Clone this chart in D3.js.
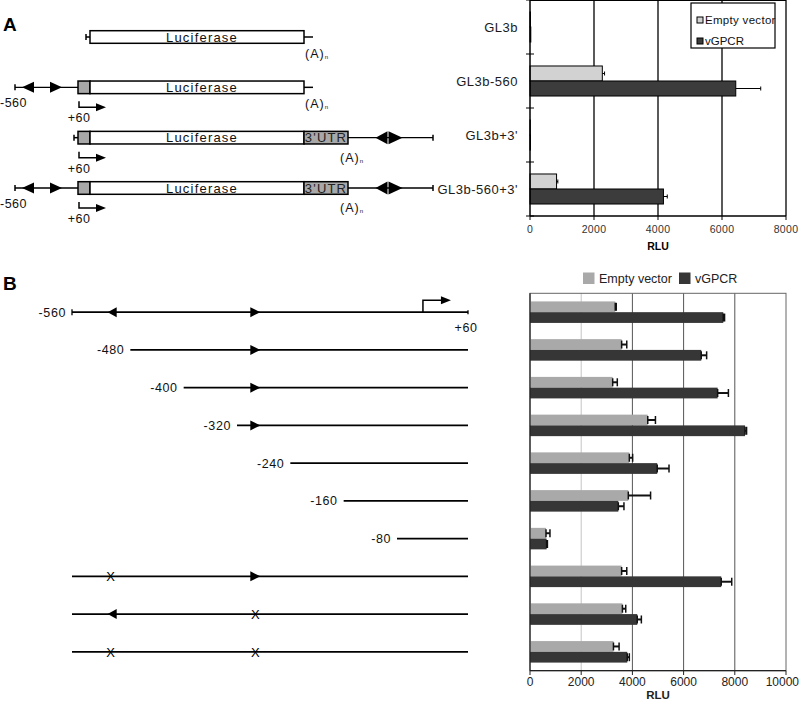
<!DOCTYPE html>
<html>
<head>
<meta charset="utf-8">
<script src="https://cdn.jsdelivr.net/npm/d3@7"></script>
<style>
  body { margin: 0; background: #fff; }
  svg { display: block; font-family: "Liberation Sans", Arial, sans-serif; }
</style>
</head>
<body>
<svg id="fig" width="800" height="702"></svg>
<script>
// ---- panel A data ----
var catsA = ["GL3b", "GL3b-560", "GL3b+3'", "GL3b-560+3'"];
var emptyA = [15, 2260, 10, 830];
var emptyAErr = [0, 70, 0, 40];
var gpcrA = [25, 6430, 15, 4170];
var gpcrAErr = [0, 780, 0, 120];
var ticksA = [0, 2000, 4000, 6000, 8000];
var hasPromoterA = [false, true, false, true];
var hasUtrA = [false, false, true, true];

// ---- panel B data ----
var catsB = ["-560", "-480", "-400", "-320", "-240", "-160", "-80", "mut1", "mut2", "mut12"];
var startB = [-560, -480, -400, -320, -240, -160, -80, -560, -560, -560];
var labelB = ["-560", "-480", "-400", "-320", "-240", "-160", "-80", "", "", ""];
var site1B = ["tri", "", "", "", "", "", "", "x", "tri", "x"];
var site2B = ["tri", "tri", "tri", "tri", "", "", "", "tri", "x", "x"];
var emptyB = [3330, 3580, 3230, 4600, 3880, 3840, 625, 3580, 3610, 3260];
var emptyBErr = [40, 200, 180, 300, 130, 870, 155, 200, 130, 220];
var gpcrB = [7550, 6690, 7330, 8400, 4970, 3450, 650, 7470, 4190, 3800];
var gpcrBErr = [50, 210, 420, 60, 460, 220, 30, 410, 160, 80];
var ticksB = [0, 2000, 4000, 6000, 8000, 10000];
var keys = ["Empty vector", "vGPCR"];

var svg = d3.select("#fig");

function tri(g, x, y, dir, w, h) {
    // dir 1 = pointing right, -1 = pointing left; x is the base
    g.append("path")
        .attr("d", "M" + x + "," + (y - h / 2) + "L" + (x + dir * w) + "," + y + "L" + x + "," + (y + h / 2) + "Z")
        .attr("fill", "#000");
}

// panel letters
svg.append("text").attr("x", 3).attr("y", 31).attr("font-size", 19).attr("font-weight", "bold").text("A");
svg.append("text").attr("x", 3).attr("y", 290).attr("font-size", 19).attr("font-weight", "bold").text("B");

// ================= Panel A schematic =================
var rowA = d3.scalePoint().domain(catsA).range([37, 188]);
var gA = svg.append("g").attr("stroke-width", 1.5);

catsA.forEach(function (c, i) {
    var y = rowA(c);
    var g = gA.append("g");
    if (hasPromoterA[i]) {
        g.append("line").attr("x1", 15).attr("x2", 78).attr("y1", y).attr("y2", y).attr("stroke", "#000").attr("stroke-width", 1.3);
        g.append("line").attr("x1", 15).attr("x2", 15).attr("y1", y - 3).attr("y2", y + 3).attr("stroke", "#000");
        tri(g, 34, y, -1, 12, 11);
        tri(g, 50, y, 1, 12, 11);
        g.append("text").attr("x", 0).attr("y", y + 20).attr("font-size", 12.5).attr("letter-spacing", 0.5).attr("fill", "#111").text("-560");
    }
    var left = (hasPromoterA[i] || hasUtrA[i]) ? 78 : 90;
    if (!hasPromoterA[i]) {
        g.append("line").attr("x1", left - 4).attr("x2", left).attr("y1", y).attr("y2", y).attr("stroke", "#000");
        g.append("line").attr("x1", left - 4).attr("x2", left - 4).attr("y1", y - 3).attr("y2", y + 3).attr("stroke", "#000");
    }
    if (left === 78) {
        g.append("rect").attr("x", 78).attr("y", y - 6.3).attr("width", 12).attr("height", 12.6)
            .attr("fill", "#a8a8a8").attr("stroke", "#000");
        // transcription start arrow
        g.append("path").attr("d", "M79," + (y + 14) + "V" + (y + 20) + "H97").attr("fill", "none").attr("stroke", "#000");
        tri(g, 96, y + 20, 1, 10, 8);
        g.append("text").attr("x", 79).attr("y", y + 35).attr("text-anchor", "middle").attr("font-size", 12.5).attr("letter-spacing", 0.5).attr("fill", "#111").text("+60");
    }
    g.append("rect").attr("x", 90).attr("y", y - 6.3).attr("width", 214).attr("height", 12.6)
        .attr("fill", "#fff").attr("stroke", "#000");
    g.append("text").attr("x", 202).attr("y", y + 4.5).attr("text-anchor", "middle")
        .attr("font-size", 13).attr("letter-spacing", 1.2).attr("fill", "#111").text("Luciferase");
    var polyX;
    if (hasUtrA[i]) {
        g.append("rect").attr("x", 304).attr("y", y - 6.3).attr("width", 44).attr("height", 12.6)
            .attr("fill", "#a8a8a8").attr("stroke", "#000");
        g.append("text").attr("x", 326).attr("y", y + 4.5).attr("text-anchor", "middle")
            .attr("font-size", 13).attr("letter-spacing", 1.2).attr("fill", "#222").text("3'UTR");
        g.append("line").attr("x1", 348).attr("x2", 433).attr("y1", y).attr("y2", y).attr("stroke", "#000").attr("stroke-width", 1.3);
        g.append("line").attr("x1", 433).attr("x2", 433).attr("y1", y - 3).attr("y2", y + 3).attr("stroke", "#000");
        tri(g, 387.5, y, -1, 12, 13);
        tri(g, 388.5, y, 1, 14, 13);
        polyX = 340;
    } else {
        g.append("line").attr("x1", 304).attr("x2", 313).attr("y1", y).attr("y2", y).attr("stroke", "#000");
        polyX = 305;
    }
    var t = g.append("text").attr("x", polyX).attr("y", y + (hasUtrA[i] ? 24 : 21))
        .attr("font-size", 12.5).attr("letter-spacing", 1).attr("fill", "#111").text("(A)");
    t.append("tspan").attr("font-size", 6).attr("dy", 1).text("n");
});

// ================= Panel A chart =================
var xA = d3.scaleLinear().domain([0, 8000]).range([530, 786]);
var yA = d3.scaleBand().domain(catsA).range([0, 216]).paddingInner(0.444).paddingOuter(0.222);
var subA = d3.scaleBand().domain(keys).range([0, yA.bandwidth()]);
var colorA = d3.scaleOrdinal().domain(keys).range(["#d2d2d2", "#3c3c3c"]);
var cA = svg.append("g");

cA.selectAll(".gridA").data(ticksA.slice(1)).enter().append("line")
    .attr("x1", function (d) { return xA(d); }).attr("x2", function (d) { return xA(d); })
    .attr("y1", 0).attr("y2", 216).attr("stroke", "#000").attr("stroke-width", 1.3);
cA.append("line").attr("x1", 530).attr("x2", 786).attr("y1", 0.5).attr("y2", 0.5).attr("stroke", "#000");

var seriesA = [
    { key: keys[0], vals: emptyA, errs: emptyAErr },
    { key: keys[1], vals: gpcrA, errs: gpcrAErr }
];
seriesA.forEach(function (s) {
    catsA.forEach(function (c, i) {
        var y0 = yA(c) + subA(s.key);
        cA.append("rect").attr("x", xA(0)).attr("y", y0)
            .attr("width", xA(s.vals[i]) - xA(0)).attr("height", subA.bandwidth())
            .attr("fill", colorA(s.key)).attr("stroke", "#000").attr("stroke-width", 1);
        if (s.errs[i] > 0) {
            var ym = y0 + subA.bandwidth() / 2;
            var xe = xA(s.vals[i] + s.errs[i]);
            cA.append("line").attr("x1", xA(s.vals[i])).attr("x2", xe).attr("y1", ym).attr("y2", ym).attr("stroke", "#000");
            cA.append("line").attr("x1", xe).attr("x2", xe).attr("y1", ym - 2).attr("y2", ym + 2).attr("stroke", "#000");
        }
    });
});

// axes A
cA.append("line").attr("x1", 530).attr("x2", 530).attr("y1", 0).attr("y2", 216).attr("stroke", "#000").attr("stroke-width", 1.5);
cA.append("line").attr("x1", 530).attr("x2", 786).attr("y1", 216).attr("y2", 216).attr("stroke", "#000").attr("stroke-width", 1.5);
d3.range(catsA.length + 1).forEach(function (k) {
    var y = k * yA.step();
    cA.append("line").attr("x1", 526).attr("x2", 534).attr("y1", y).attr("y2", y).attr("stroke", "#000");
});
cA.selectAll(".tkA").data(ticksA).enter().append("line")
    .attr("x1", function (d) { return xA(d); }).attr("x2", function (d) { return xA(d); })
    .attr("y1", 216).attr("y2", 220).attr("stroke", "#000");
cA.selectAll(".tlA").data(ticksA).enter().append("text")
    .attr("x", function (d) { return xA(d); }).attr("y", 233)
    .attr("text-anchor", "middle").attr("font-size", 10.5).attr("fill", "#333").attr("letter-spacing", 0.3)
    .text(function (d) { return d; });
cA.append("text").attr("x", 658).attr("y", 250).attr("text-anchor", "middle")
    .attr("font-size", 10.5).attr("font-weight", "bold").text("RLU");
cA.selectAll(".catA").data(catsA).enter().append("text")
    .attr("x", 518).attr("y", function (d) { return yA(d) + yA.bandwidth() / 2 + 5; })
    .attr("text-anchor", "end").attr("font-size", 13).attr("letter-spacing", 0.5).attr("fill", "#1a1a1a")
    .text(function (d) { return d; });

// legend A
var lgA = cA.append("g");
lgA.append("rect").attr("x", 691).attr("y", 3).attr("width", 84).attr("height", 45)
    .attr("fill", "#fff").attr("stroke", "#000").attr("stroke-width", 1.2);
keys.forEach(function (k, i) {
    var y = 20 + i * 21;
    lgA.append("rect").attr("x", 697).attr("y", y - 3).attr("width", 6).attr("height", 6)
        .attr("fill", colorA(k)).attr("stroke", "#000");
    lgA.append("text").attr("x", 705).attr("y", y + 4).attr("font-size", 11.5).attr("letter-spacing", i === 0 ? 0.3 : 0).attr("fill", "#111").text(k);
});

// ================= Panel B chart =================
var xB = d3.scaleLinear().domain([0, 10000]).range([530, 786]);
var yB = d3.scaleBand().domain(catsB).range([293.3, 670.7]).paddingInner(0.43).paddingOuter(0.215);
var subB = d3.scaleBand().domain(keys).range([0, yB.bandwidth()]);
var colorB = d3.scaleOrdinal().domain(keys).range(["#a9a9a9", "#363636"]);
var cB = svg.append("g");

cB.selectAll(".gridB").data(ticksB.slice(1, -1)).enter().append("line")
    .attr("x1", function (d) { return xB(d); }).attr("x2", function (d) { return xB(d); })
    .attr("y1", 293.3).attr("y2", 670.7)
    .attr("stroke", function (d) { return d === 2000 ? "#c4c4c4" : "#555"; }).attr("stroke-width", 1);
cB.append("rect").attr("x", 530).attr("y", 293.3).attr("width", 256).attr("height", 377.4)
    .attr("fill", "none").attr("stroke", "#666").attr("stroke-width", 1);

var seriesB = [
    { key: keys[0], vals: emptyB, errs: emptyBErr },
    { key: keys[1], vals: gpcrB, errs: gpcrBErr }
];
seriesB.forEach(function (s) {
    catsB.forEach(function (c, i) {
        var y0 = yB(c) + subB(s.key);
        cB.append("rect").attr("x", xB(0)).attr("y", y0)
            .attr("width", xB(s.vals[i]) - xB(0)).attr("height", subB.bandwidth())
            .attr("fill", colorB(s.key));
        var ym = y0 + subB.bandwidth() / 2;
        var x1 = xB(s.vals[i]), xe = xB(s.vals[i] + s.errs[i]);
        cB.append("line").attr("x1", x1).attr("x2", xe).attr("y1", ym).attr("y2", ym).attr("stroke", "#111").attr("stroke-width", 2);
        [x1, xe].forEach(function (xx) {
            cB.append("line").attr("x1", xx).attr("x2", xx).attr("y1", ym - 4).attr("y2", ym + 4).attr("stroke", "#111").attr("stroke-width", 1.5);
        });
    });
});

cB.append("line").attr("x1", 530).attr("x2", 786).attr("y1", 670.7).attr("y2", 670.7).attr("stroke", "#222").attr("stroke-width", 1.2);
cB.append("line").attr("x1", 530).attr("x2", 530).attr("y1", 293.3).attr("y2", 670.7).attr("stroke", "#222").attr("stroke-width", 1.2);
cB.selectAll(".tkB").data(ticksB).enter().append("line")
    .attr("x1", function (d) { return xB(d); }).attr("x2", function (d) { return xB(d); })
    .attr("y1", 670.7).attr("y2", 675).attr("stroke", "#222");
cB.selectAll(".tlB").data(ticksB).enter().append("text")
    .attr("x", function (d) { return d === 10000 ? 799 : xB(d); }).attr("y", 686)
    .attr("text-anchor", function (d) { return d === 10000 ? "end" : "middle"; })
    .attr("font-size", 12).attr("fill", "#222")
    .text(function (d) { return d; });
cB.append("text").attr("x", 658).attr("y", 699).attr("text-anchor", "middle")
    .attr("font-size", 11.5).attr("font-weight", "bold").attr("fill", "#222").text("RLU");

// legend B
var lgB = cB.append("g");
var legXB = [583, 679];
keys.forEach(function (k, i) {
    lgB.append("rect").attr("x", legXB[i]).attr("y", 272.5).attr("width", 11.5).attr("height", 11.5).attr("fill", colorB(k));
    lgB.append("text").attr("x", legXB[i] + 16).attr("y", 283).attr("font-size", 12.5).attr("fill", "#222").text(k);
});

// ================= Panel B schematic =================
var pos = d3.scaleLinear().domain([-560, -80, 60]).range([72, 392, 468]);
var gB = svg.append("g");
var site1 = -502, site2 = -285, tss = -23;

catsB.forEach(function (c, i) {
    var y = yB(c) + yB.bandwidth() / 2;
    var g = gB.append("g");
    var x0 = pos(startB[i]) + (i > 0 && i < 7 ? 5 : 0);
    g.append("line").attr("x1", x0).attr("x2", pos(60)).attr("y1", y).attr("y2", y)
        .attr("stroke", "#000").attr("stroke-width", 1.6);
    if (labelB[i]) {
        g.append("text").attr("x", x0 - 6).attr("y", y + 4.5).attr("text-anchor", "end")
            .attr("font-size", 12.5).attr("letter-spacing", 0.6).attr("fill", "#111").text(labelB[i]);
    }
    if (i === 0) {
        g.append("line").attr("x1", x0).attr("x2", x0).attr("y1", y - 3).attr("y2", y + 3).attr("stroke", "#000").attr("stroke-width", 1.3);
        g.append("line").attr("x1", pos(60)).attr("x2", pos(60)).attr("y1", y - 2).attr("y2", y + 2).attr("stroke", "#000").attr("stroke-width", 1.3);
        g.append("path").attr("d", "M" + pos(tss) + "," + y + "V" + (y - 12) + "H" + (pos(tss) + 19))
            .attr("fill", "none").attr("stroke", "#000").attr("stroke-width", 1.5);
        tri(g, pos(tss) + 18, y - 12, 1, 10, 8);
        g.append("text").attr("x", pos(60) - 2).attr("y", y + 20).attr("text-anchor", "middle")
            .attr("font-size", 12.5).attr("letter-spacing", 0.6).attr("fill", "#111").text("+60");
    }
    if (site1B[i] === "tri") tri(g, pos(site1) + 6, y, -1, 9, 10);
    if (site1B[i] === "x") g.append("text").attr("x", pos(site1)).attr("y", y + 5).attr("text-anchor", "middle").attr("font-size", 13).text("X");
    if (site2B[i] === "tri") tri(g, pos(site2) - 5, y, 1, 10, 10);
    if (site2B[i] === "x") g.append("text").attr("x", pos(site2)).attr("y", y + 5).attr("text-anchor", "middle").attr("font-size", 13).text("X");
});
</script>
</body>
</html>
